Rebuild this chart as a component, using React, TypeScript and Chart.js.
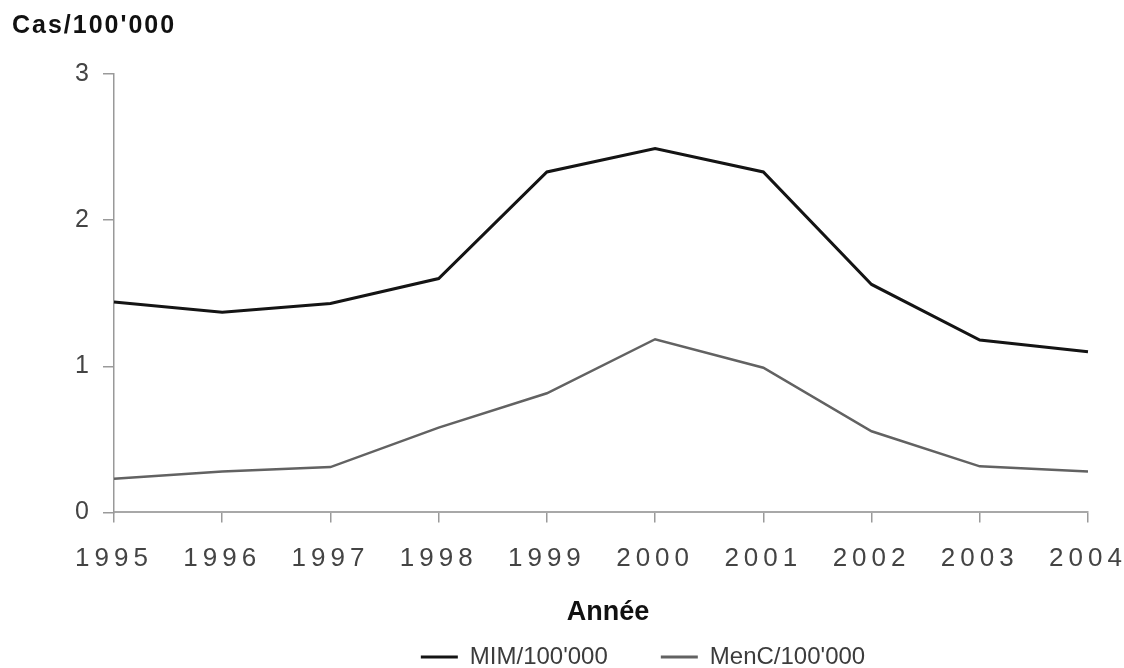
import React, { useEffect, useRef } from "react";
import { Chart, registerables } from "chart.js";

Chart.register(...registerables);

const years = ["1995", "1996", "1997", "1998", "1999", "2000", "2001", "2002", "2003", "2004"];
const mimValues = [1.44, 1.37, 1.43, 1.6, 2.33, 2.49, 2.33, 1.56, 1.18, 1.1];
const mencValues = [0.23, 0.28, 0.31, 0.58, 0.815, 1.185, 0.99, 0.555, 0.315, 0.28];
const seriesNames = ["MIM/100'000", "MenC/100'000"];
const yTitle = "Cas/100'000";
const xTitle = "Année";
const yMin = 0;
const yMax = 3;
const yStep = 1;

const FONT = "'Liberation Sans', Arial, Helvetica, sans-serif";
const LEGEND_DX = 93;
const LEGEND_DY = -37;

const tweaks = {
  id: "tweaks",
  afterLayout(chart: any) {
    const lg = chart.legend;
    if (lg) {
      lg.left += LEGEND_DX;
      lg.right += LEGEND_DX;
      lg.top += LEGEND_DY;
      lg.bottom += LEGEND_DY;
    }
  },
  beforeDraw(chart: any) {
    const sx = chart.scales.x;
    if (sx && !sx.__patched) {
      const origLabels = sx.drawLabels;
      sx.drawLabels = function (area: any) {
        const ctx = this.ctx;
        ctx.save();
        ctx.letterSpacing = "5px";
        origLabels.call(this, area);
        ctx.restore();
      };
      const origTitle = sx.drawTitle;
      sx.drawTitle = function () {
        const ctx = this.ctx;
        ctx.save();
        ctx.translate(7, 0);
        origTitle.call(this);
        ctx.restore();
      };
      sx.__patched = true;
    }
    const tb = chart.titleBlock;
    if (tb && !tb.__patched) {
      const orig = tb.draw;
      tb.draw = function (...args: any[]) {
        const ctx = this.ctx;
        ctx.save();
        ctx.letterSpacing = "2px";
        orig.apply(this, args);
        ctx.restore();
      };
      tb.__patched = true;
    }
  },
};

export default function App() {
  const ref = useRef<HTMLCanvasElement | null>(null);

  useEffect(() => {
    if (!ref.current) return;
    Chart.defaults.font.family = FONT;
    const chart = new Chart(ref.current, {
      type: "line",
      data: {
        labels: years,
        datasets: [
          {
            label: seriesNames[0],
            data: mimValues,
            borderColor: "#141414",
            backgroundColor: "#141414",
            borderWidth: 3,
            pointRadius: 0,
            tension: 0,
          },
          {
            label: seriesNames[1],
            data: mencValues,
            borderColor: "#626262",
            backgroundColor: "#626262",
            borderWidth: 2.5,
            pointRadius: 0,
            tension: 0,
          },
        ],
      },
      options: {
        animation: false,
        responsive: true,
        maintainAspectRatio: false,
        layout: { padding: { left: 12, right: 36, top: 0, bottom: -48 } },
        plugins: {
          tooltip: { enabled: false },
          title: {
            display: true,
            text: yTitle,
            align: "start",
            color: "#111111",
            font: { size: 25, weight: "bold", family: FONT, lineHeight: 1.2 },
            padding: { top: 11, bottom: 33 },
          },
          legend: {
            position: "bottom",
            labels: {
              color: "#3c3c3c",
              font: { size: 24, family: FONT },
              boxWidth: 37,
              boxHeight: 3,
              padding: 53,
              generateLabels: (c: any) =>
                Chart.defaults.plugins.legend.labels
                  .generateLabels(c)
                  .map((it: any) => ({ ...it, lineWidth: 0 })),
            },
          },
        },
        scales: {
          x: {
            type: "category",
            offset: false,
            grid: {
              display: true,
              drawOnChartArea: false,
              drawTicks: true,
              tickLength: 10,
              color: "#9a9a9a",
              lineWidth: 1.5,
            },
            border: { display: true, color: "#a8a8a8", width: 2 },
            ticks: {
              color: "#444444",
              font: { size: 26, family: FONT, lineHeight: 1.2 },
              padding: 21,
              maxRotation: 0,
              autoSkip: false,
            },
            title: {
              display: true,
              text: xTitle,
              color: "#111111",
              font: { size: 27, weight: "bold", family: FONT, lineHeight: 1.2 },
              padding: { top: 1, bottom: 0 },
            },
            afterFit: (s: any) => {
              s.paddingLeft = 0;
              s.paddingRight = 0;
            },
          },
          y: {
            min: yMin,
            max: yMax,
            ticks: {
              stepSize: yStep,
              color: "#444444",
              font: { size: 25, family: FONT, lineHeight: 1.2 },
              padding: 14,
            },
            grid: {
              display: true,
              drawOnChartArea: false,
              drawTicks: true,
              tickLength: 11,
              color: "#9a9a9a",
              lineWidth: 1.5,
            },
            border: { display: true, color: "#999999", width: 1.5 },
            afterFit: (s: any) => {
              s.width = 102;
            },
          },
        },
      },
      plugins: [tweaks],
    });
    return () => chart.destroy();
  }, []);

  return (
    <div style={{ position: "fixed", left: 0, top: 0, width: 1124, height: 668, background: "#ffffff" }}>
      <canvas ref={ref} />
    </div>
  );
}
